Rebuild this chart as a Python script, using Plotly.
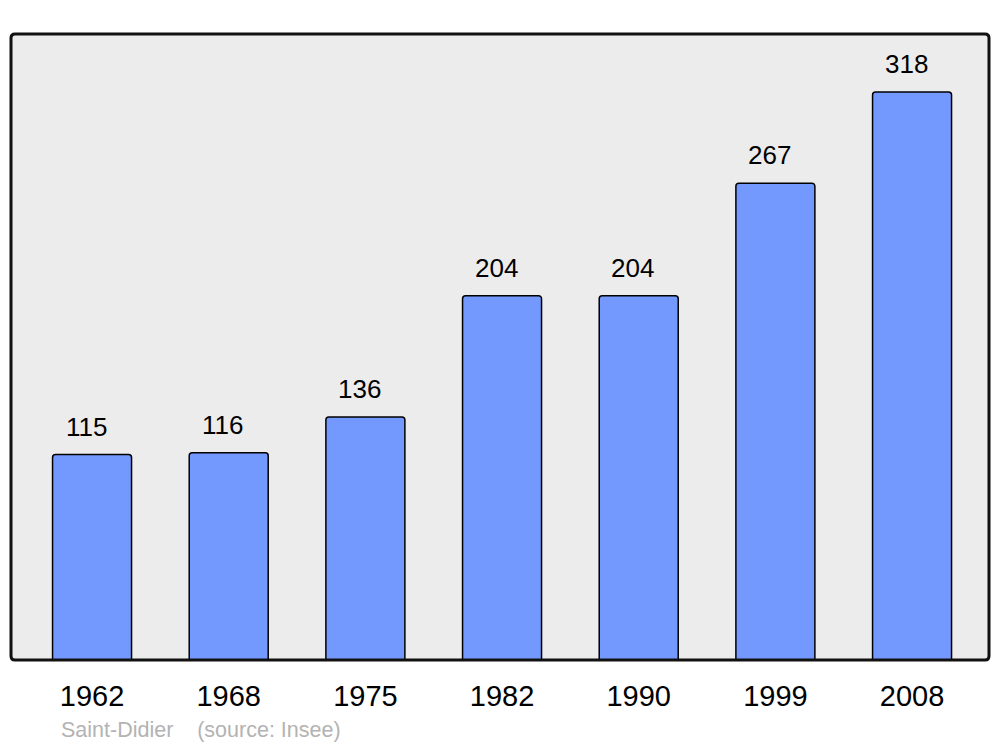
import plotly.graph_objects as go

years = ["1962", "1968", "1975", "1982", "1990", "1999", "2008"]
population = [115, 116, 136, 204, 204, 267, 318]
source_text = "Saint-Didier" + "\u00a0" * 4 + "(source: Insee)"

W, H = 1000, 747
ml, mr, mt, mb = 11, 11, 34, 87
FONT = "Liberation Sans, Arial, sans-serif"

fig = go.Figure()
fig.add_trace(go.Bar(
    x=years, y=population,
    width=0.578,
    marker=dict(color="#7399ff", line=dict(color="#000000", width=1.5), cornerradius=3),
    hoverinfo="skip",
))

for i, v in enumerate(population):
    fig.add_annotation(x=i, y=v, text=str(v), showarrow=False,
                       xref="x", yref="y", yanchor="middle", yshift=28, xshift=-6,
                       font=dict(family=FONT, size=26, color="#000000"))

fig.add_annotation(x=(59 - ml) / (W - ml - mr), y=0, xref="paper", yref="paper",
                   xanchor="left", yanchor="middle", yshift=-70, showarrow=False,
                   text=source_text,
                   font=dict(family=FONT, size=21.5, color="#b3b3b3"))

# rounded frame
pw, ph = W - ml - mr, H - mt - mb
rx, ry = 4 / pw, 4 / ph
path = (f"M {rx},0 L {1-rx},0 Q 1,0 1,{ry} L 1,{1-ry} Q 1,1 {1-rx},1 "
        f"L {rx},1 Q 0,1 0,{1-ry} L 0,{ry} Q 0,0 {rx},0 Z")
fig.add_shape(type="path", path=path, xref="paper", yref="paper",
              line=dict(color="#111111", width=3), layer="above")

fig.update_layout(
    width=W, height=H,
    margin=dict(l=ml, r=mr, t=mt, b=mb),
    paper_bgcolor="#ffffff",
    plot_bgcolor="#ececec",
    showlegend=False,
    xaxis=dict(type="category", range=[-0.593, 6.563], showgrid=False, zeroline=False,
               ticks="", ticklabelstandoff=16,
               tickfont=dict(family=FONT, size=29, color="#000000"),
               fixedrange=True),
    yaxis=dict(range=[0, 350.5], showgrid=False, zeroline=False, showticklabels=False,
               ticks="", fixedrange=True),
)

fig.write_html("out.html", config={"displayModeBar": False},
               post_script="document.body.style.margin='0';document.body.style.overflow='hidden';")
